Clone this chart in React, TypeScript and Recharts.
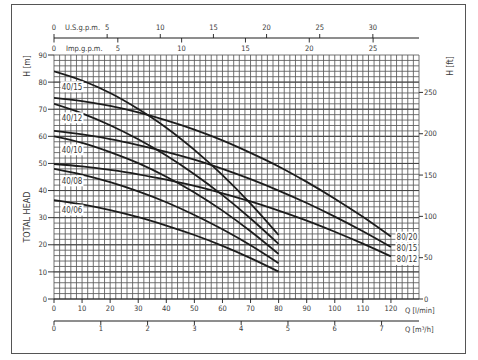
import React from "react";
import { LineChart, Line, XAxis, YAxis, CartesianGrid, ReferenceLine, LabelList } from "recharts";

// flow in l/min where the curves were read
const FLOW_LMIN = [0, 10, 20, 30, 40, 50, 60, 70, 80, 90, 100, 110, 120];

// head in m
const H_40_15 = [84, 80.6, 76, 70.1, 63.2, 55, 45.7, 35.2, 23.6];
const H_40_12 = [72, 68.5, 64.1, 58.9, 52.9, 46, 38.3, 29.7, 20.3];
const H_40_10 = [60, 57.6, 54.2, 50.1, 45.1, 39.3, 32.6, 25, 16.6];
const H_40_08 = [48, 45.9, 43.1, 39.7, 35.7, 31, 25.7, 19.8, 13.2];
const H_40_06 = [36.5, 34.9, 32.8, 30.2, 27.1, 23.6, 19.6, 15.1, 10.1];
const H_80_20 = [74.2, 73, 71.2, 68.8, 65.9, 62.5, 58.5, 53.9, 48.9, 43.2, 37, 30.3, 23];
const H_80_15 = [62, 60.7, 59, 56.8, 54.3, 51.4, 48, 44.2, 40, 35.4, 30.4, 25, 19.2];
const H_80_12 = [49.8, 48.9, 47.6, 46, 44, 41.7, 39, 36, 32.6, 28.9, 24.8, 20.4, 15.7];

const LMIN_TICKS = [0, 10, 20, 30, 40, 50, 60, 70, 80, 90, 100, 110, 120];
const HEAD_TICKS = [0, 10, 20, 30, 40, 50, 60, 70, 80, 90];
const US_GPM_TICKS = [0, 5, 10, 15, 20, 25, 30];
const IMP_GPM_TICKS = [0, 5, 10, 15, 20, 25];
const M3H_TICKS = [0, 1, 2, 3, 4, 5, 6, 7];
const FT_TICKS = [0, 50, 100, 150, 200, 250];

const Q_MAX = 130;
const H_MAX = 90;
const GRID_STEP = 2;

// unit conversions for the secondary scales
const L_PER_US_GAL = 3.785411784;
const L_PER_IMP_GAL = 4.54609;
const LMIN_PER_M3H = 1000 / 60;
const M_PER_FT = 0.3048;

const series = [
  { name: "40/15", values: H_40_15 },
  { name: "40/12", values: H_40_12 },
  { name: "40/10", values: H_40_10 },
  { name: "40/08", values: H_40_08 },
  { name: "40/06", values: H_40_06 },
  { name: "80/20", values: H_80_20 },
  { name: "80/15", values: H_80_15 },
  { name: "80/12", values: H_80_12 },
];

// where each curve name sits relative to a point of its curve
const labelSpots: Record<string, { index: number; dx: number; dy: number }> = {
  "40/15": { index: 0, dx: 18, dy: 15.5 },
  "40/12": { index: 0, dx: 18, dy: 14 },
  "40/10": { index: 0, dx: 18, dy: 13.5 },
  "40/08": { index: 0, dx: 18, dy: 12 },
  "40/06": { index: 0, dx: 18, dy: 10 },
  "80/20": { index: 12, dx: 16, dy: 0.5 },
  "80/15": { index: 12, dx: 16, dy: 1.5 },
  "80/12": { index: 12, dx: 16, dy: 3 },
};

const rows = FLOW_LMIN.map((q, i) => {
  const row: Record<string, number | null> = {
    q,
    usg: q / L_PER_US_GAL,
    imp: q / L_PER_IMP_GAL,
    m3h: q / LMIN_PER_M3H,
  };
  series.forEach((s) => {
    row[s.name] = i < s.values.length ? s.values[i] : null;
  });
  return row;
});

const steps = (max: number, step: number) => {
  const out: number[] = [];
  for (let v = 0; v <= max + 1e-9; v += step) out.push(v);
  return out;
};

const FONT = "'Liberation Sans Narrow', 'DejaVu Sans Condensed', 'Liberation Sans', sans-serif";
const TEXT = "#3a3a3a";
const INK = "#1c1c1c";

type Side = "left" | "right" | "bottom" | "top" | "topDown";

function makeTick(side: Side, size: number, gap: number, major?: number[]) {
  return (props: any) => {
    const { x, y, payload } = props;
    const v = payload.value;
    if (major && !major.some((m) => Math.abs(m - v) < 1e-6)) return <g />;
    const txt = { fontSize: 7.5, fill: TEXT, fontFamily: FONT };
    if (side === "left") {
      return (
        <g>
          <line x1={x + gap} y1={y} x2={x + gap + size} y2={y} stroke={INK} strokeWidth={0.9} />
          <text x={x} y={y} dy="0.36em" textAnchor="end" {...txt}>{v}</text>
        </g>
      );
    }
    if (side === "right") {
      return (
        <g>
          <line x1={x - gap - size} y1={y} x2={x - gap} y2={y} stroke={INK} strokeWidth={0.9} />
          <text x={x} y={y} dy="0.36em" textAnchor="start" {...txt}>{v}</text>
        </g>
      );
    }
    if (side === "bottom") {
      return (
        <g>
          <line x1={x} y1={y - gap - size} x2={x} y2={y - gap} stroke={INK} strokeWidth={0.9} />
          <text x={x} y={y} dy="0.72em" textAnchor="middle" {...txt}>{v}</text>
        </g>
      );
    }
    if (side === "top") {
      return (
        <g>
          <line x1={x} y1={y + gap} x2={x} y2={y + gap + size} stroke={INK} strokeWidth={0.9} />
          <text x={x} y={y} textAnchor="middle" {...txt}>{v}</text>
        </g>
      );
    }
    // tick hanging under a shared line, label below it
    return (
      <g>
        <line x1={x} y1={y} x2={x} y2={y + 4.5} stroke={INK} strokeWidth={0.9} />
        <text x={x} y={y + 10} dy="0.36em" textAnchor="middle" {...txt}>{v}</text>
      </g>
    );
  };
}

function curveLabel(name: string) {
  const spot = labelSpots[name];
  return (props: any) => {
    if (props.index !== spot.index || props.value == null) return null;
    const cx = props.x + spot.dx;
    const cy = props.y + spot.dy;
    return (
      <g>
        <rect x={cx - 11.5} y={cy - 5.5} width={23} height={11} fill="#fff" />
        <text x={cx} y={cy} dy="0.36em" textAnchor="middle" fontSize={8} fill={TEXT} fontFamily={FONT}>
          {name}
        </text>
      </g>
    );
  };
}

const leftTitles = (props: any) => {
  const { x, y } = props.viewBox;
  return (
    <g fill={TEXT} fontFamily={FONT}>
      <text transform={`translate(${x + 16.5},${y + 11}) rotate(-90)`} textAnchor="middle" dy="0.36em" fontSize={8.5}>
        H [m]
      </text>
      <text transform={`translate(${x + 17},${y + 162}) rotate(-90)`} textAnchor="middle" dy="0.36em" fontSize={9}>
        TOTAL HEAD
      </text>
    </g>
  );
};

const rightTitle = (props: any) => {
  const { x, y } = props.viewBox;
  return (
    <text
      transform={`translate(${x + 31},${y + 11}) rotate(-90)`}
      textAnchor="middle"
      dy="0.36em"
      fontSize={8.5}
      fill={TEXT}
      fontFamily={FONT}
    >
      H [ft]
    </text>
  );
};

export default function App() {
  const qGrid = steps(Q_MAX, GRID_STEP);
  const hGrid = steps(H_MAX, GRID_STEP);
  const axisLabel = { fontSize: 7.5, fill: TEXT, fontFamily: FONT };

  return (
    <div style={{ position: "absolute", left: 0, top: 0, width: 478, height: 360, background: "#fff" }}>
      <div
        style={{
          position: "absolute",
          left: 11,
          top: 4,
          width: 455,
          height: 350,
          border: "1.5px solid #555",
          boxSizing: "border-box",
        }}
      />
      <div style={{ position: "absolute", left: 0, top: 0 }}>
        <LineChart width={478} height={360} data={rows} margin={{ top: 16, right: 19, bottom: 23, left: 10 }}>
          <CartesianGrid xAxisId="lmin" yAxisId="m" stroke="#5a5a5a" strokeWidth={0.85} />
          {HEAD_TICKS.slice(1, -1).map((h) => (
            <ReferenceLine key={h} xAxisId="lmin" yAxisId="m" y={h} stroke="#444" strokeWidth={1} />
          ))}

          <XAxis
            xAxisId="imp"
            dataKey="imp"
            orientation="top"
            type="number"
            domain={[0, Q_MAX / L_PER_IMP_GAL]}
            allowDataOverflow
            ticks={IMP_GPM_TICKS}
            interval={0}
            height={17}
            tickSize={17}
            tickMargin={0}
            axisLine={false}
            tickLine={false}
            tick={makeTick("topDown", 4, 0)}
            label={{ value: "Imp.g.p.m.", position: "insideLeft", offset: 12, dy: 1.5, ...axisLabel }}
          />
          <XAxis
            xAxisId="usg"
            dataKey="usg"
            orientation="top"
            type="number"
            domain={[0, Q_MAX / L_PER_US_GAL]}
            allowDataOverflow
            ticks={US_GPM_TICKS}
            interval={0}
            height={22}
            tickSize={4}
            tickMargin={4}
            axisLine={{ stroke: INK, strokeWidth: 1 }}
            tickLine={false}
            tick={makeTick("top", 4, 4)}
            label={{ value: "U.S.g.p.m.", position: "insideLeft", offset: 11, ...axisLabel }}
          />
          <XAxis
            xAxisId="lmin"
            dataKey="q"
            type="number"
            domain={[0, Q_MAX]}
            allowDataOverflow
            ticks={qGrid}
            interval={0}
            height={22}
            tickSize={4}
            tickMargin={3}
            axisLine={{ stroke: INK, strokeWidth: 1 }}
            tickLine={false}
            tick={makeTick("bottom", 4, 3, LMIN_TICKS)}
            label={{ value: "Q [l/min]", position: "right", offset: -14, ...axisLabel }}
          />
          <XAxis
            xAxisId="m3h"
            dataKey="m3h"
            type="number"
            domain={[0, Q_MAX / LMIN_PER_M3H]}
            allowDataOverflow
            ticks={M3H_TICKS}
            interval={0}
            height={16}
            tickSize={4}
            tickMargin={1}
            axisLine={{ stroke: INK, strokeWidth: 1 }}
            tickLine={false}
            tick={makeTick("bottom", 4, 1)}
            label={{ value: "Q [m³/h]", position: "right", offset: -14, ...axisLabel }}
          />
          <YAxis
            yAxisId="m"
            type="number"
            domain={[0, H_MAX]}
            allowDataOverflow
            ticks={hGrid}
            interval={0}
            width={44}
            tickSize={6}
            tickMargin={1}
            axisLine={false}
            tickLine={false}
            tick={makeTick("left", 6, 1, HEAD_TICKS)}
            label={leftTitles}
          />
          <YAxis
            yAxisId="ft"
            orientation="right"
            type="number"
            domain={[0, H_MAX / M_PER_FT]}
            allowDataOverflow
            ticks={FT_TICKS}
            interval={0}
            width={40}
            tickSize={4}
            tickMargin={1}
            axisLine={false}
            tickLine={false}
            tick={makeTick("right", 4, 1)}
            label={rightTitle}
          />

          {series.map((s) => (
            <Line
              key={s.name}
              xAxisId="lmin"
              yAxisId="m"
              type="monotone"
              dataKey={s.name}
              stroke={INK}
              strokeWidth={1.8}
              dot={false}
              activeDot={false}
              connectNulls={false}
              isAnimationActive={false}
            >
              <LabelList dataKey={s.name} content={curveLabel(s.name)} />
            </Line>
          ))}
        </LineChart>
      </div>
    </div>
  );
}
